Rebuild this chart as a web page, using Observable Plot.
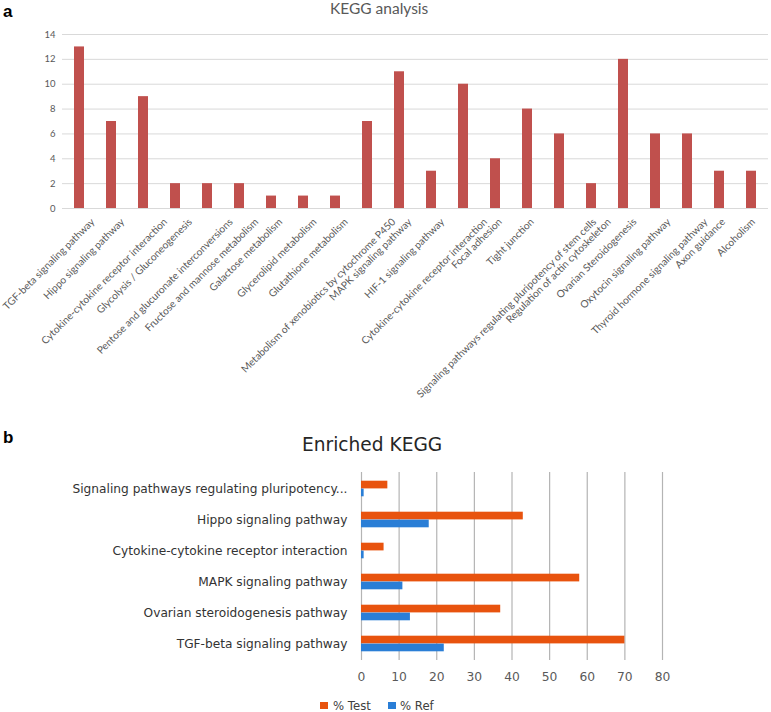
<!DOCTYPE html>
<html>
<head>
<meta charset="utf-8">
<script src="https://cdn.jsdelivr.net/npm/d3@7"></script>
<script src="https://cdn.jsdelivr.net/npm/@observablehq/plot@0.6"></script>
<style>
  html, body { margin: 0; padding: 0; background: #fff; }
  #root { position: relative; width: 771px; height: 712px; overflow: hidden; background: #fff; }
  .abs { position: absolute; white-space: nowrap; line-height: 1; }
  .panel { position: absolute; left: 0; }
</style>
</head>
<body>
<div id="root">
  <div id="panelA" class="panel" style="top:0"></div>
  <div id="panelB" class="panel" style="top:430px"></div>
  <div class="abs" style="left:3px;top:2px;font:bold 17px 'Liberation Sans',Arial,sans-serif;color:#000">a</div>
  <div class="abs" style="left:330px;top:-1px;font:15.5px Lato,sans-serif;color:#595959">KEGG analysis</div>
  <div class="abs" style="left:3px;top:428px;font:bold 17px 'Liberation Sans',Arial,sans-serif;color:#000">b</div>
  <div class="abs" style="left:302px;top:434px;font:18.6px 'DejaVu Sans',sans-serif;color:#262626">Enriched KEGG</div>
  <div class="abs" style="left:320px;top:702px;width:8px;height:7px;background:#e8530e"></div>
  <div class="abs" style="left:333px;top:699px;font:11.7px 'DejaVu Sans',sans-serif;color:#404040">% Test</div>
  <div class="abs" style="left:388px;top:702px;width:8px;height:7px;background:#2a7ed6"></div>
  <div class="abs" style="left:400px;top:699px;font:11.7px 'DejaVu Sans',sans-serif;color:#404040">% Ref</div>
</div>
<script>
// ---- Panel a data ----
const categoriesA = [
  "TGF-beta signaling pathway",
  "Hippo signaling pathway",
  "Cytokine-cytokine receptor interaction",
  "Glycolysis / Gluconeogenesis",
  "Pentose and glucuronate interconversions",
  "Fructose and mannose metabolism",
  "Galactose metabolism",
  "Glycerolipid metabolism",
  "Glutathione metabolism",
  "Metabolism of xenobiotics by cytochrome P450",
  "MAPK signaling pathway",
  "HIF-1 signaling pathway",
  "Cytokine-cytokine receptor interaction ",
  "Focal adhesion",
  "Tight junction",
  "Signaling pathways regulating pluripotency of stem cells",
  "Regulation of actin cytoskeleton",
  "Ovarian Steroidogenesis",
  "Oxytocin signaling pathway",
  "Thyroid hormone signaling pathway",
  "Axon guidance",
  "Alcoholism"
];
const countsA = [13, 7, 9, 2, 2, 2, 1, 1, 1, 7, 11, 3, 10, 4, 8, 6, 2, 12, 6, 6, 3, 3];
const ticksA = [0, 2, 4, 6, 8, 10, 12, 14];

// ---- Panel b data ----
const categoriesB = [
  "Signaling pathways regulating pluripotency...",
  "Hippo signaling pathway",
  "Cytokine-cytokine receptor interaction",
  "MAPK signaling pathway",
  "Ovarian steroidogenesis pathway",
  "TGF-beta signaling pathway"
];
const testB = [7, 43, 6, 58, 37, 70];
const refB = [0.7, 18, 0.7, 11, 13, 22];
const ticksB = [0, 10, 20, 30, 40, 50, 60, 70, 80];

const dataA = categoriesA.map((c, i) => ({category: c, count: countsA[i]}));
const dataB = categoriesB.map((c, i) => ({category: c, test: testB[i], ref: refB[i]}));

const labelMarks = categoriesA.map(c => Plot.text([c], {
  x: d => d,
  text: d => d.trim(),
  frameAnchor: "bottom",
  textAnchor: "end",
  rotate: -45,
  dx: -3 + 0.72 * c.trim().length,
  dy: 14,
  fontSize: 10.2,
  fill: "#595959"
}));

const chartA = Plot.plot({
  width: 771,
  height: 430,
  marginTop: 34,
  marginBottom: 222,
  marginLeft: 62,
  marginRight: 3,
  x: {domain: categoriesA, paddingInner: 0.7, paddingOuter: 0.35, axis: null},
  y: {domain: [0, 14], axis: null},
  style: {fontFamily: "Lato, sans-serif", background: "transparent", overflow: "visible"},
  marks: [
    Plot.gridY(ticksA, {stroke: "#d9d9d9", strokeOpacity: 1, strokeWidth: 1}),
    Plot.axisY({ticks: ticksA, tickSize: 0, tickPadding: 7, fontSize: 9.5, color: "#595959", label: null}),
    Plot.barY(dataA, {x: "category", y: "count", fill: "#c0504d"}),
    ...labelMarks
  ]
});
document.getElementById("panelA").appendChild(chartA);

const chartB = Plot.plot({
  width: 771,
  height: 282,
  marginTop: 42,
  marginBottom: 52,
  marginLeft: 361,
  marginRight: 109,
  x: {domain: [0, 80], axis: null},
  y: {domain: categoriesB, padding: 0, axis: null},
  style: {fontFamily: "'DejaVu Sans', sans-serif", background: "transparent", overflow: "visible"},
  marks: [
    Plot.ruleX(ticksB, {stroke: "#b4b4b4", strokeWidth: 1.2}),
    Plot.barX(dataB, {y: "category", x: "test", fill: "#e8530e", insetTop: 7.7, insetBottom: 15.6}),
    Plot.barX(dataB, {y: "category", x: "ref", fill: "#2a7ed6", insetTop: 15.6, insetBottom: 7.7}),
    Plot.axisY({tickSize: 0, tickPadding: 14, fontSize: 12.2, color: "#333333", label: null}),
    Plot.axisX({ticks: ticksB, tickSize: 0, tickPadding: 12, fontSize: 12.3, color: "#595959", label: null})
  ]
});
document.getElementById("panelB").appendChild(chartB);
</script>
</body>
</html>
